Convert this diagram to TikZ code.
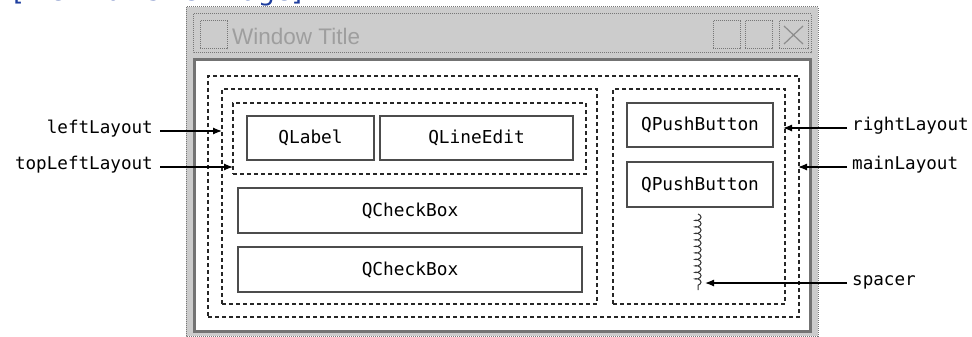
\documentclass[tikz,border=0pt]{standalone}
\usepackage{fontspec}
\setmonofont{DejaVu Sans Mono}
\newfontfamily\winfont{Liberation Sans}
\newfontfamily\linkfont{DejaVu Sans}
\usetikzlibrary{arrows.meta,decorations.pathmorphing}

\definecolor{linkblue}{HTML}{1F3F9F}
\definecolor{framegray}{HTML}{CCCCCC}
\definecolor{dotgray}{HTML}{777777}

\tikzset{
  dotframe/.style={draw=dotgray, line width=1pt, dash pattern=on 1pt off 1pt},
  layoutbox/.style={draw=black!85, line width=1.5pt, dash pattern=on 4pt off 3pt,
    inner sep=0pt, outer sep=0pt},
  widget/.style={draw=black!70, line width=1.5pt, fill=white, inner sep=0pt,
    outer sep=0pt, font=\ttfamily\fontsize{17.8}{20}\selectfont},
  lbl/.style={inner sep=0pt, font=\ttfamily\fontsize{17.6}{20}\selectfont,
    text height=0.72em, text depth=0.2em},
  pointer/.style={draw=black, line width=1.2pt, -{Latex[length=9pt,width=7pt]}},
  spring/.style={draw=black!80, line width=1pt, decorate,
    decoration={coil, amplitude=3pt, segment length=6.5pt}},
}

\begin{document}
\begin{tikzpicture}[x=1pt,y=-1pt]
\useasboundingbox (0,0) rectangle (972,337);

% link caption above the window, mostly above the page edge
\node[anchor=base west, inner sep=0pt, text=linkblue,
  font=\linkfont\fontsize{27}{30}\selectfont] (viewlink) at (13,1) {[View full size image]};

% window frame and title bar
\draw[dotframe, fill=framegray] (186,7) rectangle (818,336);
\draw[dotframe] (193,14) rectangle (811,53);
\node[anchor=base west, inner sep=0pt, text=black!38,
  font=\winfont\fontsize{22.5}{26}\selectfont] (wintitle) at (232,45) {Window Title};
\draw[dotframe] (200,21) rectangle (227,49);
\draw[dotframe] (713,21) rectangle (740,49);
\draw[dotframe] (745,21) rectangle (772,49);
\draw[dotframe] (779,21) rectangle (808,49);
\draw[draw=black!45, line width=1.2pt] (784,26) -- (803,44) (803,26) -- (784,44);

% client area
\draw[fill=white, draw=black!55, line width=3pt] (194,60) rectangle (810,331);

% layouts
\node[layoutbox, minimum width=591, minimum height=241] (mainL) at (503.5,196.5) {};
\node[layoutbox, minimum width=375, minimum height=215] (leftL) at (409.5,196.5) {};
\node[layoutbox, minimum width=353, minimum height=71] (topLeftL) at (409.5,138.5) {};
\node[layoutbox, minimum width=172, minimum height=215] (rightL) at (699,196.5) {};

% widgets
\node[widget, minimum width=127, minimum height=44] (qlabel) at (310.5,138) {QLabel};
\node[widget, minimum width=193, minimum height=44] (qlineedit) at (476.5,138) {QLineEdit};
\node[widget, minimum width=344, minimum height=45] (check1) at (410,210.5) {QCheckBox};
\node[widget, minimum width=344, minimum height=45] (check2) at (410,269.5) {QCheckBox};
\node[widget, minimum width=146, minimum height=44] (push1) at (700,125) {QPushButton};
\node[widget, minimum width=146, minimum height=45] (push2) at (700,184.5) {QPushButton};

% spacer
\coordinate (sptop) at (698,214);
\coordinate (spbot) at (698,290);
\coordinate (spmark) at (705,283);
\draw[spring] (sptop) -- (spbot);

% labels
\node[lbl, anchor=east] (lblLeft) at (153,131) {leftLayout};
\node[lbl, anchor=east] (lblTopLeft) at (153,167) {topLeftLayout};
\node[lbl, anchor=west] (lblRight) at (852,128) {rightLayout};
\node[lbl, anchor=west] (lblMain) at (852,167) {mainLayout};
\node[lbl, anchor=west] (lblSpacer) at (852,283) {spacer};

% pointers
\draw[pointer, shorten <=7pt] (lblLeft.east) -- (lblLeft.east -| leftL.west);
\draw[pointer, shorten <=7pt] (lblTopLeft.east) -- (lblTopLeft.east -| topLeftL.west);
\draw[pointer, shorten <=5pt, shorten >=-2pt] (lblRight.west) -- (lblRight.west -| rightL.east);
\draw[pointer, shorten <=5pt, shorten >=-1pt] (lblMain.west) -- (lblMain.west -| mainL.east);
\draw[pointer, shorten <=5pt] (lblSpacer.west) -- (spmark);
\end{tikzpicture}
\end{document}
